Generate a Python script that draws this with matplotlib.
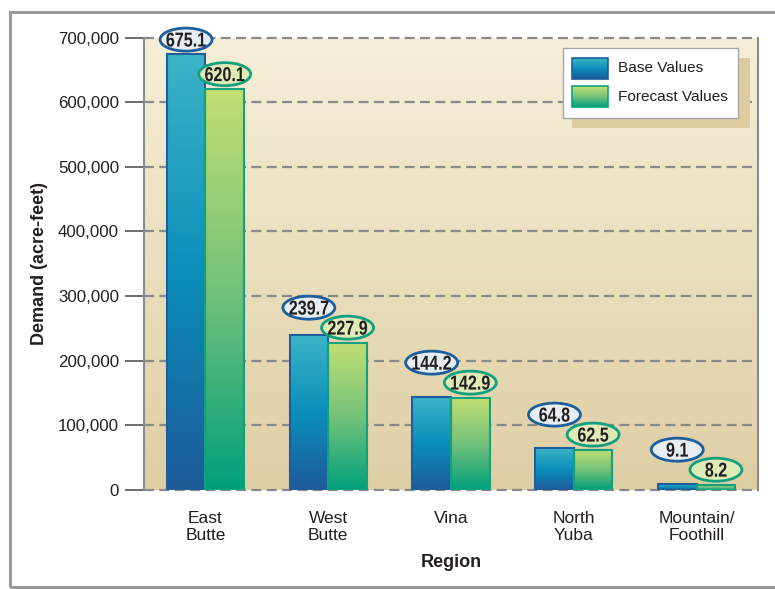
import numpy as np
import matplotlib
matplotlib.use("Agg")
import matplotlib.pyplot as plt
from matplotlib.colors import LinearSegmentedColormap
from matplotlib.patches import Rectangle, Ellipse, PathPatch
from matplotlib.textpath import TextPath
from matplotlib.font_manager import FontProperties
from matplotlib.transforms import Affine2D

plt.rcParams['font.family'] = ['Liberation Sans', 'DejaVu Sans']

# data (demand in acre-feet)
regions = ["East\nButte", "West\nButte", "Vina", "North\nYuba", "Mountain/\nFoothill"]
base_vals = [675100, 239700, 144200, 64800, 9100]
forecast_vals = [620100, 227900, 142900, 62500, 8200]
base_lbl = ["675.1", "239.7", "144.2", "64.8", "9.1"]
fc_lbl = ["620.1", "227.9", "142.9", "62.5", "8.2"]
yticks = [0, 100000, 200000, 300000, 400000, 500000, 600000, 700000]

W, H = 775, 589
fig = plt.figure(figsize=(W / 100, H / 100), dpi=100)
ax_l, ax_r, ax_t, ax_b = 144, 758, 37.5, 490
ax = fig.add_axes([ax_l / W, 1 - ax_b / H, (ax_r - ax_l) / W, (ax_b - ax_t) / H])

base_cm = LinearSegmentedColormap.from_list("b", ["#1D5A98", "#0A8FBA", "#3DB3C6"])
fc_cm = LinearSegmentedColormap.from_list("f", ["#00A07C", "#74C27A", "#C2DF72"])
bg_cm = LinearSegmentedColormap.from_list("bg", ["#DECEA4", "#F5EFD8"])
grad = np.linspace(0, 1, 256).reshape(-1, 1)

# background gradient
ax.imshow(grad, cmap=bg_cm, origin="lower", extent=[0, 1, 0, 1], transform=ax.transAxes,
          aspect="auto", zorder=0)

# dashed grid
for t in yticks:
    ax.axhline(t, color="#8A8A8A", lw=1.6, ls=(0, (4.5, 2.4)), zorder=1, clip_on=False)

x = np.arange(len(regions))
bw = 0.315
for i in range(len(regions)):
    for xs, v, cm, ec in [(x[i] - bw / 2, base_vals[i], base_cm, "#1E5E9C"),
                          (x[i] + bw / 2, forecast_vals[i], fc_cm, "#12A07E")]:
        ax.imshow(grad, cmap=cm, origin="lower", aspect="auto",
                  extent=[xs - bw / 2, xs + bw / 2, 0, v], zorder=2)
        ax.bar(xs, v, width=bw, facecolor="none", edgecolor=ec, lw=1.5, zorder=3)

ax.set_xlim(-0.5, len(regions) - 0.5)
ax.set_ylim(0, 700000)

# value labels in ellipses (condensed bold text)
upp = 700000 / (ax_b - ax_t)   # data units per pixel
xpp = len(regions) / (ax_r - ax_l)
ew, eh = 52 * xpp, 23 * upp
bold = FontProperties(family="Liberation Sans", weight="bold")


def narrow_text(xc, yc, txt, size=14.5, squeeze=0.8):
    tp = TextPath((0, 0), txt, size=size, prop=bold)
    bb = tp.get_extents()
    cx, cy = ax.transData.transform((xc, yc))
    tr = (Affine2D().translate(-(bb.x0 + bb.x1) / 2, -(bb.y0 + bb.y1) / 2)
          .scale(squeeze * 100 / 72, 100 / 72).translate(cx, cy))
    p = PathPatch(tp, transform=tr, facecolor="#231F20", edgecolor="none", zorder=6)
    fig.add_artist(p)


for i in range(len(regions)):
    fy = forecast_vals[i] + 15 * upp
    by = max(base_vals[i] + 14 * upp, fy + 20 * upp)
    for xc, yc, txt, fc, ec in [(x[i] - bw / 2, by, base_lbl[i], "#E6EEF3", "#1E5E9C"),
                                (x[i] + bw / 2, fy, fc_lbl[i], "#DEEBB6", "#12A07E")]:
        ax.add_patch(Ellipse((xc, yc), ew, eh, facecolor=fc, edgecolor=ec, lw=2,
                             zorder=5, clip_on=False))
        narrow_text(xc, yc, txt)

# axes styling
for s in ["top", "bottom"]:
    ax.spines[s].set_visible(False)
for s in ["left", "right"]:
    ax.spines[s].set_color("#8A8A8A")
    ax.spines[s].set_linewidth(1.5)
ax.set_yticks(yticks)
ax.set_yticklabels([f"{t:,}" for t in yticks], fontsize=12.2, color="#231F20")
ax.tick_params(axis="y", length=14, width=1.1, color="#444444", pad=4)
ax.set_xticks(x)
ax.set_xticklabels(regions, fontsize=12.5, color="#231F20", linespacing=1.2)
ax.tick_params(axis="x", length=0, pad=15)
ax.set_xlabel("Region", fontsize=13, fontweight="bold", color="#231F20", labelpad=8)
ax.set_ylabel("Demand (acre-feet)", fontsize=13, fontweight="bold", color="#231F20", labelpad=7)


# legend (drawn by hand with shadow)
def fx(px):
    return (px - ax_l) / (ax_r - ax_l)


def fy_(py):
    return (ax_b - py) / (ax_b - ax_t)


ax.add_patch(Rectangle((fx(572), fy_(128)), fx(750) - fx(572), fy_(58) - fy_(128),
                       transform=ax.transAxes, facecolor="#DCCB9F", edgecolor="none", zorder=7))
ax.add_patch(Rectangle((fx(563), fy_(118)), fx(738) - fx(563), fy_(48) - fy_(118),
                       transform=ax.transAxes, facecolor="white", edgecolor="#A8A8A8",
                       lw=1, zorder=8))
for (top, bot), cm, ec, name in [((58, 79), base_cm, "#1E5E9C", "Base Values"),
                                 ((86, 107), fc_cm, "#12A07E", "Forecast Values")]:
    ax.imshow(grad, cmap=cm, origin="lower", aspect="auto",
              extent=[fx(572), fx(608), fy_(bot), fy_(top)], transform=ax.transAxes, zorder=9)
    ax.add_patch(Rectangle((fx(572), fy_(bot)), fx(608) - fx(572), fy_(top) - fy_(bot),
                           transform=ax.transAxes, facecolor="none", edgecolor=ec, lw=1.2, zorder=10))
    ax.text(fx(618), (fy_(top) + fy_(bot)) / 2, name, transform=ax.transAxes, fontsize=11.1,
            va="center", ha="left", color="#231F20", zorder=10)

ax.set_xlim(-0.5, len(regions) - 0.5)
ax.set_ylim(0, 700000)

# outer frame
fig.patches.append(Rectangle((10 / W, 2 / H), 1.2, (587 - 12) / H, transform=fig.transFigure,
                             facecolor="none", edgecolor="#9A9A9A", lw=2.2))

fig.savefig("out.png", dpi=100)
